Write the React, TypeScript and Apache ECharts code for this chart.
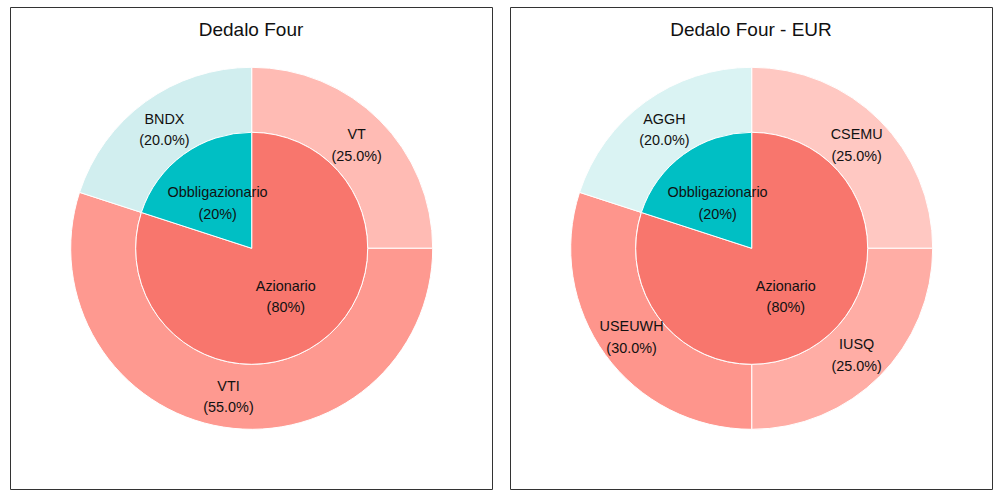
import React, { useEffect, useRef } from "react";
import * as echarts from "echarts";

const titles = ["Dedalo Four", "Dedalo Four - EUR"];
const innerCategories = ["Azionario", "Obbligazionario"];
const innerValues = [80, 20];
const innerColors = ["#F8766D", "#00BFC4"];

const leftOuterCategories = ["VT", "VTI", "BNDX"];
const leftOuterValues = [25, 55, 20];
const leftOuterColors = ["#FFBBB4", "#FE9990", "#D1EEEF"];

const rightOuterCategories = ["CSEMU", "IUSQ", "USEUWH", "AGGH"];
const rightOuterValues = [25, 25, 30, 20];
const rightOuterColors = ["#FFC8C2", "#FFADA5", "#FE958C", "#DAF3F3"];

const FONT = "'Liberation Sans', Arial, sans-serif";

export default function App() {
  const ref = useRef<HTMLDivElement>(null);
  useEffect(() => {
    if (!ref.current) return;
    const chart = echarts.init(ref.current, null, { renderer: "svg" });
    const CY = 248.3;
    const panels = [
      { cx: 251.7, cats: leftOuterCategories, vals: leftOuterValues, cols: leftOuterColors },
      { cx: 751.7, cats: rightOuterCategories, vals: rightOuterValues, cols: rightOuterColors },
    ];
    const labelStyle = {
      show: true,
      position: "inside",
      color: "#111",
      fontSize: 14.4,
      lineHeight: 21.5,
      fontFamily: FONT,
    };
    const innerFmt = (d: any) => `${d.name}\n(${d.value}%)`;
    const outerFmt = (d: any) => `${d.name}\n(${Number(d.value).toFixed(1)}%)`;
    const series: any[] = [];
    panels.forEach((p) => {
      const innerData = (colored: boolean) =>
        innerCategories.map((n, i) => ({
          name: n,
          value: innerValues[i],
          itemStyle: { color: colored ? innerColors[i] : "rgba(0,0,0,0)" },
        }));
      const outerData = (colored: boolean) =>
        p.cats.map((n, i) => ({
          name: n,
          value: p.vals[i],
          itemStyle: { color: colored ? p.cols[i] : "rgba(0,0,0,0)" },
        }));
      const base = {
        type: "pie",
        startAngle: 90,
        clockwise: true,
        avoidLabelOverlap: false,
        silent: true,
        labelLine: { show: false },
      };
      // filled rings
      series.push({
        ...base,
        center: [p.cx, CY],
        radius: [0, 116],
        itemStyle: { borderColor: "#fff", borderWidth: 1 },
        label: { show: false },
        data: innerData(true),
        z: 3,
      });
      series.push({
        ...base,
        center: [p.cx, CY],
        radius: [116, 181],
        itemStyle: { borderColor: "#fff", borderWidth: 1 },
        label: { show: false },
        data: outerData(true),
        z: 2,
      });
      // label carriers (transparent), radii shifted to cancel ECharts' 3px outward nudge
      series.push({
        ...base,
        center: [p.cx, CY + 1.5],
        radius: [0, 110],
        itemStyle: { borderWidth: 0 },
        label: { ...labelStyle, formatter: innerFmt },
        data: innerData(false),
        z: 5,
      });
      series.push({
        ...base,
        center: [p.cx, CY + 1.5],
        radius: [113, 178],
        itemStyle: { borderWidth: 0 },
        label: { ...labelStyle, formatter: outerFmt },
        data: outerData(false),
        z: 5,
      });
    });
    chart.setOption({
      animation: false,
      backgroundColor: "#fff",
      title: titles.map((t, i) => ({
        text: t,
        left: panels[i].cx - 5.7,
        top: 15,
        textAlign: "center",
        textStyle: { fontSize: 19, fontWeight: "normal", color: "#111", fontFamily: FONT },
      })),
      graphic: [
        {
          type: "rect",
          shape: { x: 10.5, y: 7.5, width: 482, height: 482 },
          style: { fill: "none", stroke: "#333", lineWidth: 1 },
          z: 10,
        },
        {
          type: "rect",
          shape: { x: 510.5, y: 7.5, width: 482, height: 482 },
          style: { fill: "none", stroke: "#333", lineWidth: 1 },
          z: 10,
        },
      ],
      series,
    });
    return () => chart.dispose();
  }, []);
  return (
    <div
      ref={ref}
      style={{ position: "absolute", left: 0, top: 0, width: 1000, height: 500 }}
    />
  );
}
